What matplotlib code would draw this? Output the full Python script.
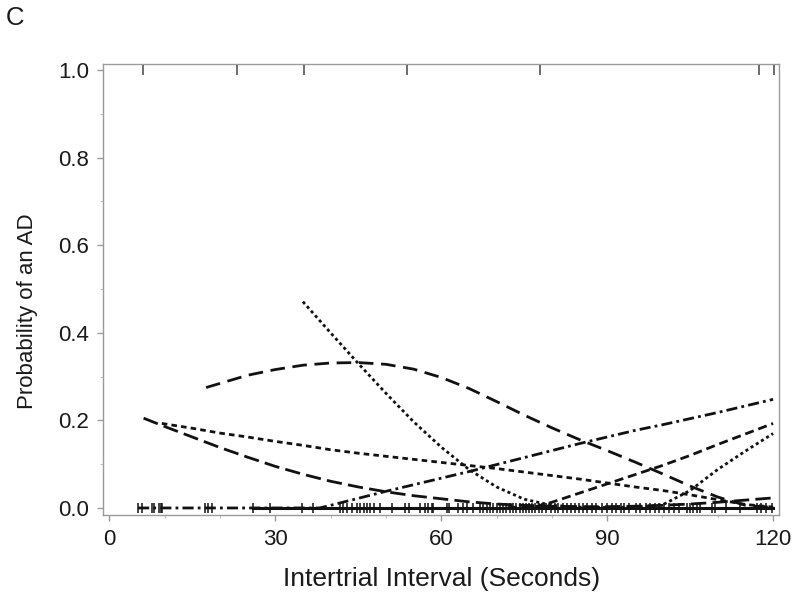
import matplotlib
matplotlib.use("Agg")
import matplotlib.pyplot as plt
from matplotlib.ticker import MultipleLocator

# ---------------- data ----------------
# Curve A: long dash, hump
a_x = [17.5, 25, 30, 35, 40, 45, 50, 55, 60, 65, 70, 75, 80, 85, 90, 95, 100, 105, 110, 115, 120]
a_y = [0.275, 0.303, 0.316, 0.326, 0.331, 0.332, 0.328, 0.317, 0.298, 0.273, 0.243, 0.212,
       0.183, 0.156, 0.131, 0.105, 0.078, 0.050, 0.025, 0.006, 0.001]
# Curve B: dotted, steep descent then late rise
b_x = [35, 40, 45, 50, 55, 60, 65, 70, 75, 80, 85, 90, 95, 100, 105, 110, 115, 120]
b_y = [0.471, 0.400, 0.330, 0.262, 0.197, 0.139, 0.088, 0.048, 0.020, 0.006, 0.002, 0.001,
       0.002, 0.007, 0.040, 0.088, 0.130, 0.170]
# Curve C: long dash, decreasing from the left
c_x = [6.2, 10, 15, 20, 25, 30, 35, 40, 45, 50, 55, 60, 65, 70, 75, 80, 85, 90, 95, 100,
       105, 110, 115, 120]
c_y = [0.205, 0.186, 0.162, 0.138, 0.116, 0.095, 0.077, 0.061, 0.048, 0.037, 0.028, 0.021,
       0.014, 0.009, 0.006, 0.004, 0.003, 0.003, 0.004, 0.006, 0.009, 0.013, 0.018, 0.023]
# Curve D: short dash, slow decrease
d_x = [9.5, 15, 20, 25, 30, 35, 40, 45, 50, 55, 60, 65, 70, 75, 80, 85, 90, 95, 100, 105,
       110, 115, 120]
d_y = [0.193, 0.182, 0.171, 0.162, 0.152, 0.143, 0.133, 0.125, 0.118, 0.111, 0.104, 0.097,
       0.090, 0.082, 0.074, 0.066, 0.057, 0.048, 0.040, 0.030, 0.019, 0.008, 0.002]
# Curve E: dash-dot, increasing
e_x = [5.2, 20, 30, 38, 40, 45, 50, 55, 60, 65, 70, 75, 80, 85, 90, 95, 100, 105, 110, 115, 120]
e_y = [0.0, 0.0, 0.0, 0.0, 0.006, 0.022, 0.038, 0.053, 0.068, 0.083, 0.099, 0.115, 0.131,
       0.147, 0.162, 0.177, 0.190, 0.204, 0.218, 0.233, 0.248]
# Curve F: medium dash, increasing at the right
f_x = [72, 77, 80, 85, 90, 95, 100, 105, 110, 115, 120]
f_y = [0.001, 0.003, 0.013, 0.034, 0.055, 0.076, 0.097, 0.120, 0.145, 0.169, 0.193]
# Curve H: solid, near zero
h_x = [26, 40, 60, 80, 100, 120]
h_y = [0.0, 0.0, 0.0, 0.0, 0.0, 0.0]

# observed intervals (rug): trials without / with an AD
rug0_x = [5.2, 5.9, 7.7, 8.1, 8.9, 9.3, 9.6, 17.3, 17.8, 18.6, 26.0, 29.1, 34.8, 36.8,
          41.7, 42.3, 42.9, 43.8, 44.7, 45.4, 46.0, 46.6, 47.2, 47.9, 49.0, 51.1, 53.5,
          54.1, 56.2, 57.1, 57.7, 58.3, 58.6, 61.0, 61.5, 63.1, 64.0, 64.7, 65.8, 67.0,
          67.6, 68.2, 68.8, 69.4, 70.0, 70.6, 71.2, 71.8, 72.4, 73.0, 73.6, 74.3, 74.8,
          75.3, 75.9, 76.4, 77.0, 77.6, 78.3, 79.0, 79.8, 80.5, 81.2, 82.0, 82.8, 83.5,
          84.2, 85.0, 85.7, 86.4, 87.2, 88.0, 89.1, 90.0, 90.8, 91.6, 92.5, 93.1, 94.0,
          95.2, 96.0, 97.1, 97.8, 98.6, 99.4, 100.3, 101.2, 102.0, 103.0, 104.4, 105.0,
          105.6, 106.2, 106.8, 108.9, 109.5, 111.5, 114.0, 117.0, 117.8, 118.8, 119.8]
rug1_x = [6.1, 23.1, 35.2, 53.9, 77.8, 117.4, 120.2]

x_ticks = [0, 30, 60, 90, 120]
y_ticks = [0.0, 0.2, 0.4, 0.6, 0.8, 1.0]

# ---------------- style ----------------
plt.rcParams["font.family"] = ["Liberation Sans", "DejaVu Sans"]
plt.rcParams["lines.scale_dashes"] = False

fig = plt.figure(figsize=(8.0, 6.08), dpi=100)
ax = fig.add_axes([0.129, 0.153, 0.845, 0.742])

lw = 2.0
k = "#111111"
ax.plot(h_x, h_y, color=k, lw=2.2, ls="-", zorder=3)
ax.plot(a_x, a_y, color=k, lw=lw, ls=(0, (10.5, 5.5)), zorder=4)
ax.plot(b_x, b_y, color=k, lw=lw, ls=(0, (2.2, 2.2)), zorder=4)
ax.plot(c_x, c_y, color=k, lw=lw, ls=(0, (11, 4.5)), zorder=4)
ax.plot(d_x, d_y, color=k, lw=lw, ls=(0, (4, 3)), zorder=4)
ax.plot(e_x, e_y, color=k, lw=lw, ls=(0, (8, 3, 2, 3)), zorder=4)
ax.plot(f_x, f_y, color=k, lw=lw, ls=(0, (6.5, 3.5)), zorder=4)

ax.plot(rug0_x, [0.0] * len(rug0_x), ls="none", marker="|", ms=7, mew=1.1,
        color=k, zorder=5, clip_on=False)
ax.plot(rug1_x, [1.0] * len(rug1_x), ls="none", marker="|", ms=7, mew=1.2,
        color="#555555", zorder=5, clip_on=False)

ax.set_xlim(-1.1, 121.1)
ax.set_ylim(-0.016, 1.014)
ax.set_xticks(x_ticks)
ax.set_yticks(y_ticks)
ax.set_xticklabels([str(v) for v in x_ticks])
ax.set_yticklabels([f"{v:.1f}" for v in y_ticks])
ax.yaxis.set_minor_locator(MultipleLocator(0.1))
ax.xaxis.set_minor_locator(MultipleLocator(10))

spc = "#9a9a9a"
for s in ax.spines.values():
    s.set_color(spc)
    s.set_linewidth(1.0)
ax.tick_params(axis="both", which="major", direction="out", length=4, width=1,
               color=spc, labelsize=16, labelcolor="#1a1a1a", pad=6)
ax.tick_params(axis="both", which="minor", direction="out", length=2.5, width=0.8,
               color="#c0c0c0")

ax.set_xlabel("Intertrial Interval (Seconds)", fontsize=19, color="#1a1a1a", labelpad=12)
ax.set_ylabel("Probability of an AD", fontsize=16, color="#1a1a1a")
ax.yaxis.set_label_coords(-0.097, 0.452)

fig.text(0.019, 0.970, "C", fontsize=18.5, color="#1a1a1a", ha="center", va="center")

fig.savefig("out.png", dpi=100)
